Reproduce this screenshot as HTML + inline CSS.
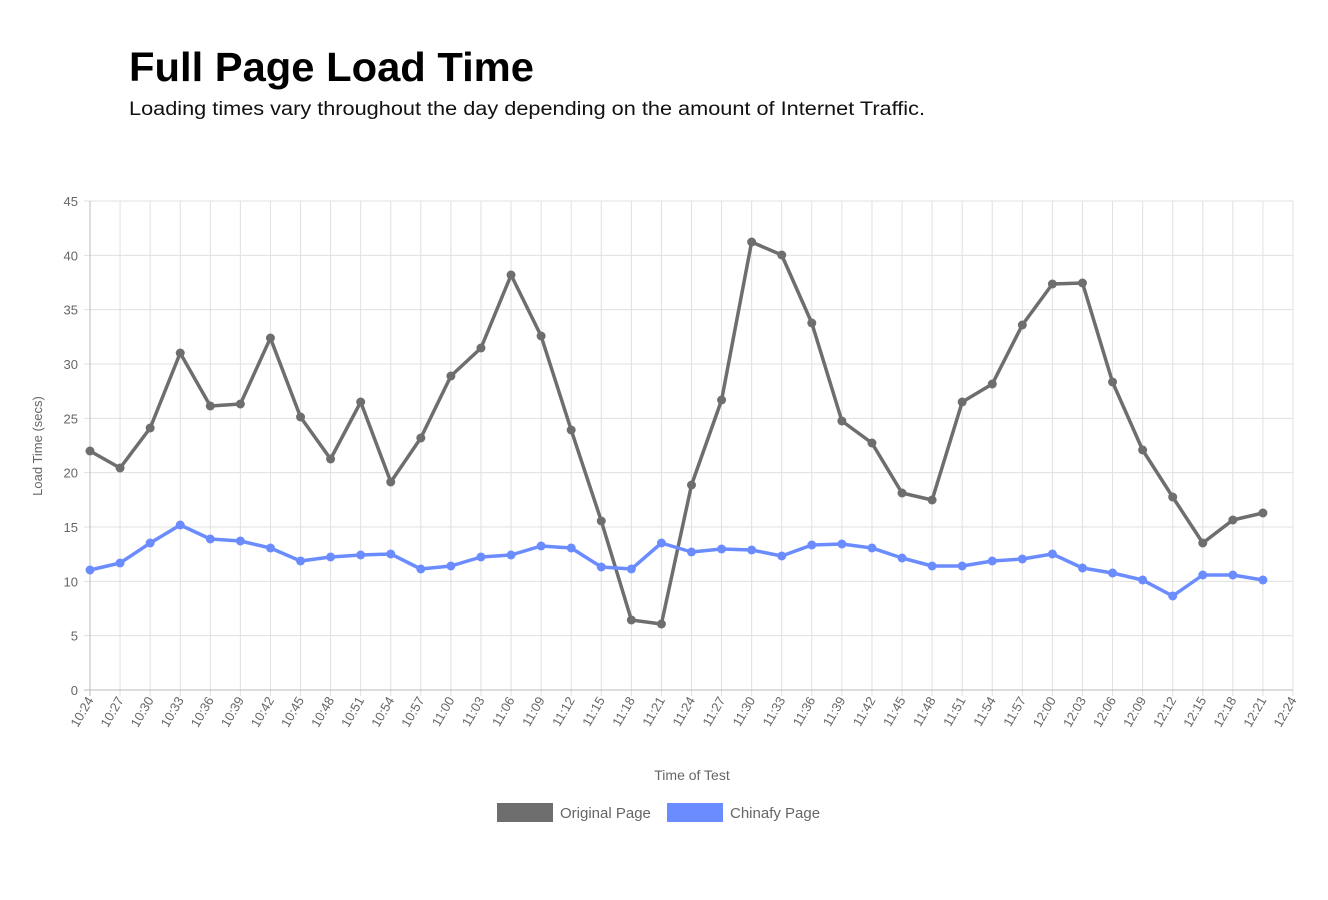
<!DOCTYPE html>
<html><head><meta charset="utf-8"><style>
html,body{margin:0;padding:0;background:#fff;width:1328px;height:900px;overflow:hidden}
</style></head><body>
<svg width="1328" height="900" xmlns="http://www.w3.org/2000/svg" font-family="Liberation Sans, sans-serif">
<text x="129" y="81" font-size="41" font-weight="bold" fill="#000" textLength="405" lengthAdjust="spacingAndGlyphs">Full Page Load Time</text>
<text x="129" y="115" font-size="19" fill="#111" textLength="796" lengthAdjust="spacingAndGlyphs">Loading times vary throughout the day depending on the amount of Internet Traffic.</text>
<g id="grid" stroke="#e0e0e0" stroke-width="1"></g>
<g id="labels" font-size="13" fill="#666"></g>
<line x1="90" y1="201" x2="90" y2="696" stroke="#bbb"/>
<line x1="84" y1="690" x2="1293" y2="690" stroke="#bbb"/>
<text x="42" y="446" font-size="13" fill="#666" text-anchor="middle" transform="rotate(-90 42 446)">Load Time (secs)</text>
<text x="692" y="780" font-size="14" fill="#666" text-anchor="middle">Time of Test</text>
<rect x="497" y="803" width="56" height="19" fill="#6e6e6e"/>
<text x="560" y="818" font-size="15" fill="#666">Original Page</text>
<rect x="667" y="803" width="56" height="19" fill="#6b8cff"/>
<text x="730" y="818" font-size="15" fill="#666">Chinafy Page</text>
<g id="series"></g>
</svg>
<script>
var ns="http://www.w3.org/2000/svg";
function el(t,a,p){var e=document.createElementNS(ns,t);for(var k in a)e.setAttribute(k,a[k]);p.appendChild(e);return e;}
var g=document.getElementById('grid'),L=document.getElementById('labels'),S=document.getElementById('series');
for(var i=0;i<=9;i++){var y=690-i*54.333;el('line',{x1:84,x2:1293,y1:y,y2:y},g);var t=el('text',{x:78,y:y+5,'text-anchor':'end'},L);t.textContent=i*5;}
var sx=1203/40;
for(var i=0;i<=40;i++){var x=90+i*sx;el('line',{x1:x,x2:x,y1:201,y2:696},g);
var m=24+i*3,h=10+Math.floor(m/60),mm=m%60;var s=h+':'+(mm<10?'0':'')+mm;
var ax=x+4,ay=700;
var t=el('text',{x:ax,y:ay,'text-anchor':'end',transform:'rotate(-60 '+ax+' '+ay+')'},L);t.textContent=s;}
var o=[451,468,428,353,406,404,338,417,459,402,482,438,376,348,275,336,430,521,620,624,485,400,242,255,323,421,443,493,500,402,384,325,284,283,382,450,497,543,520,513];
var c=[570,563,543,525,539,541,548,561,557,555,554,569,566,557,555,546,548,567,569,543,552,549,550,556,545,544,548,558,566,566,561,559,554,568,573,580,596,575,575,580];
function draw(d,col){var p=d.map(function(y,i){return (90+i*sx).toFixed(1)+','+y}).join(' ');
el('polyline',{points:p,fill:'none',stroke:col,'stroke-width':3.5,'stroke-linejoin':'round'},S);
d.forEach(function(y,i){el('circle',{cx:90+i*sx,cy:y,r:4.5,fill:col},S);});}
draw(o,'#6e6e6e');draw(c,'#6b8cff');
</script>
</body></html>
